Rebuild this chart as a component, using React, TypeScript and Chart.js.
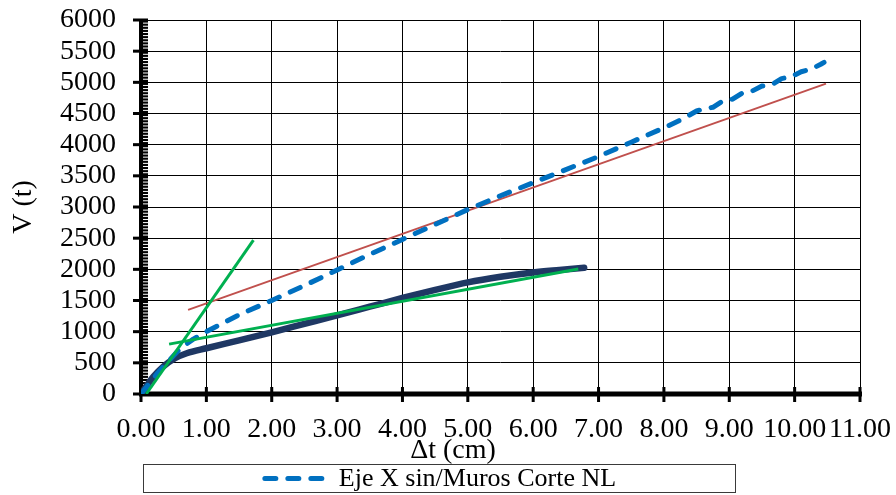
import React, { useEffect, useRef } from "react";
import { Chart, registerables } from "chart.js";

Chart.register(...registerables);

// ---- Data ----
const X_TICKS_MIN = 0;
const X_TICKS_MAX = 11;
const Y_MIN = 0;
const Y_MAX = 6000;
const Y_STEP = 500;
const Y_MINOR = 50;

const X_TITLE = "\u0394t (cm)";
const Y_TITLE = "V (t)";
const LEGEND_LABEL = "Eje X sin/Muros Corte NL";

// Dark navy capacity curve
const navyX = [0, 0.1, 0.19, 0.34, 0.52, 0.7, 1.0, 1.5, 2.0, 2.5, 3.0, 3.5, 4.0, 4.5, 5.0, 5.5, 6.0, 6.4, 6.78];
const navyY = [0, 150, 278, 439, 573, 654, 734, 860, 990, 1125, 1260, 1400, 1540, 1670, 1790, 1880, 1950, 1990, 2025];

// Blue dashed curve (Eje X sin/Muros Corte NL)
const blueX = [0, 0.25, 0.45, 0.6, 0.8, 1.0, 1.5, 2.0, 2.5, 3.0, 3.5, 4.0, 4.5, 5.0, 5.5, 6.0, 6.5, 7.0, 7.5, 8.0, 8.3, 8.5, 8.6, 8.75, 8.9, 9.05, 9.2, 9.35, 9.5, 9.65, 9.8, 9.95, 10.1, 10.25, 10.4, 10.45];
const blueY = [0, 330, 560, 730, 880, 1000, 1270, 1500, 1740, 1990, 2240, 2480, 2720, 2960, 3180, 3390, 3600, 3810, 4040, 4270, 4420, 4540, 4570, 4600, 4700, 4730, 4830, 4860, 4940, 4960, 5060, 5090, 5170, 5210, 5290, 5320];

// Thin red secant line
const redX = [0.72, 10.48];
const redY = [1350, 4980];

// Green tangent lines
const greenSteepX = [0.08, 1.72];
const greenSteepY = [0, 2470];
const greenFlatX = [0.43, 6.69];
const greenFlatY = [800, 2005];

const FONT = '"Liberation Serif", "Times New Roman", serif';
const NAVY = "#1F3864";
const BLUE = "#0070C0";
const RED = "#C0504D";
const GREEN = "#00B050";
const BLUE_DASH = [11, 12];

const zip = (xs: number[], ys: number[]) => xs.map((x, i) => ({ x, y: ys[i] }));

const decorPlugin = {
  id: "decor",
  beforeDatasetsDraw(chart: any) {
    const { ctx, chartArea, scales } = chart;
    const { left, right, top, bottom } = chartArea;
    const y = scales.y;
    const x = scales.x;
    ctx.save();
    ctx.fillStyle = "#000";
    // y axis bar
    ctx.fillRect(left - 2, top - 1, 4, bottom - top + 3);
    // minor ladder
    ctx.fillRect(left + 2, top, 5, bottom - top);
    ctx.fillStyle = "#fff";
    for (let v = Y_MIN + Y_MINOR; v < Y_MAX; v += Y_MINOR) {
      if (v % Y_STEP === 0) continue;
      const py = y.getPixelForValue(v);
      ctx.fillRect(left + 2, py - 0.5, 5, 1);
    }
    ctx.fillStyle = "#000";
    // y major ticks (crossing)
    y.ticks.forEach((t: any) => {
      const py = y.getPixelForValue(t.value);
      ctx.fillRect(left - 8, py - 1.5, 15, 3);
    });
    // x axis bar
    ctx.fillRect(left - 2, bottom - 2.5, right - left + 4, 5);
    // x major ticks (crossing)
    x.ticks.forEach((t: any) => {
      const px = x.getPixelForValue(t.value);
      ctx.fillRect(px - 1.5, bottom - 7, 3, 15);
    });
    ctx.restore();
  },
  afterDraw(chart: any) {
    const { ctx, chartArea } = chart;
    const { left, top, bottom } = chartArea;
    ctx.save();
    ctx.fillStyle = "#000";
    // axis titles
    ctx.font = `28px ${FONT}`;
    ctx.textAlign = "center";
    ctx.textBaseline = "middle";
    ctx.fillText(X_TITLE, left + 312, bottom + 57);
    ctx.save();
    ctx.translate(24, (top + bottom) / 2);
    ctx.rotate(-Math.PI / 2);
    ctx.fillText(Y_TITLE, 0, 0);
    ctx.restore();

    // legend box
    const bx = 143, by = 464, bw = 592, bh = 28;
    ctx.strokeStyle = "#3a3a3a";
    ctx.lineWidth = 1;
    ctx.strokeRect(bx + 0.5, by + 0.5, bw, bh);
    ctx.font = `26px ${FONT}`;
    const tw = ctx.measureText(LEGEND_LABEL).width;
    const sample = 70;
    const gap = 7;
    const total = sample + gap + tw;
    const sx = bx + bw / 2 - total / 2;
    const cy = by + bh / 2 + 0.5;
    ctx.strokeStyle = BLUE;
    ctx.lineWidth = 5;
    ctx.lineCap = "round";
    ctx.setLineDash(BLUE_DASH);
    ctx.beginPath();
    ctx.moveTo(sx + 3, cy);
    ctx.lineTo(sx + sample, cy);
    ctx.stroke();
    ctx.setLineDash([]);
    ctx.textAlign = "left";
    ctx.fillStyle = "#000";
    ctx.fillText(LEGEND_LABEL, sx + sample + gap, cy + 1);
    ctx.restore();
  },
};

export default function App() {
  const ref = useRef<HTMLCanvasElement | null>(null);

  useEffect(() => {
    if (!ref.current) return;
    const chart = new Chart(ref.current, {
      type: "scatter",
      data: {
        datasets: [
          {
            label: "green steep",
            data: zip(greenSteepX, greenSteepY),
            showLine: true,
            borderColor: GREEN,
            borderWidth: 3,
            pointRadius: 0,
            order: 0,
          },
          {
            label: "green flat",
            data: zip(greenFlatX, greenFlatY),
            showLine: true,
            borderColor: GREEN,
            borderWidth: 3,
            pointRadius: 0,
            order: 1,
          },
          {
            label: LEGEND_LABEL,
            data: zip(blueX, blueY),
            showLine: true,
            borderColor: BLUE,
            borderWidth: 5,
            borderDash: BLUE_DASH,
            borderCapStyle: "round",
            borderJoinStyle: "round",
            pointRadius: 0,
            order: 2,
          },
          {
            label: "red",
            data: zip(redX, redY),
            showLine: true,
            borderColor: RED,
            borderWidth: 2,
            pointRadius: 0,
            order: 3,
          },
          {
            label: "navy",
            data: zip(navyX, navyY),
            showLine: true,
            borderColor: NAVY,
            borderWidth: 6.5,
            borderCapStyle: "round",
            borderJoinStyle: "round",
            cubicInterpolationMode: "monotone",
            pointRadius: 0,
            order: 4,
          },
        ],
      },
      options: {
        animation: false,
        responsive: false,
        maintainAspectRatio: false,
        layout: { padding: { left: 0, top: 20, right: 36, bottom: 0 } },
        plugins: {
          legend: { display: false },
          tooltip: { enabled: false },
          title: { display: false },
        },
        scales: {
          x: {
            type: "linear",
            min: X_TICKS_MIN,
            max: X_TICKS_MAX,
            afterFit: (s: any) => {
              s.height = 101;
              s.paddingLeft = 0;
              s.paddingRight = 0;
            },
            ticks: {
              stepSize: 1,
              autoSkip: false,
              maxRotation: 0,
              minRotation: 0,
              padding: 19,
              color: "#000",
              font: { family: FONT, size: 28 },
              callback: (v: any) => Number(v).toFixed(2),
            },
            grid: { color: "#000", lineWidth: 1, drawTicks: false },
            border: { display: false },
          },
          y: {
            type: "linear",
            min: Y_MIN,
            max: Y_MAX,
            afterFit: (s: any) => {
              s.width = 141;
              s.paddingTop = 0;
              s.paddingBottom = 0;
            },
            ticks: {
              stepSize: Y_STEP,
              autoSkip: false,
              padding: 25,
              color: "#000",
              font: { family: FONT, size: 28 },
              callback: (v: any) => String(v),
            },
            grid: { color: "#000", lineWidth: 1, drawTicks: false },
            border: { display: false },
          },
        },
      },
      plugins: [decorPlugin],
    });
    return () => chart.destroy();
  }, []);

  return (
    <div style={{ position: "fixed", left: 0, top: 0, width: 896, height: 495, background: "#fff" }}>
      <canvas ref={ref} width={896} height={495} />
    </div>
  );
}
